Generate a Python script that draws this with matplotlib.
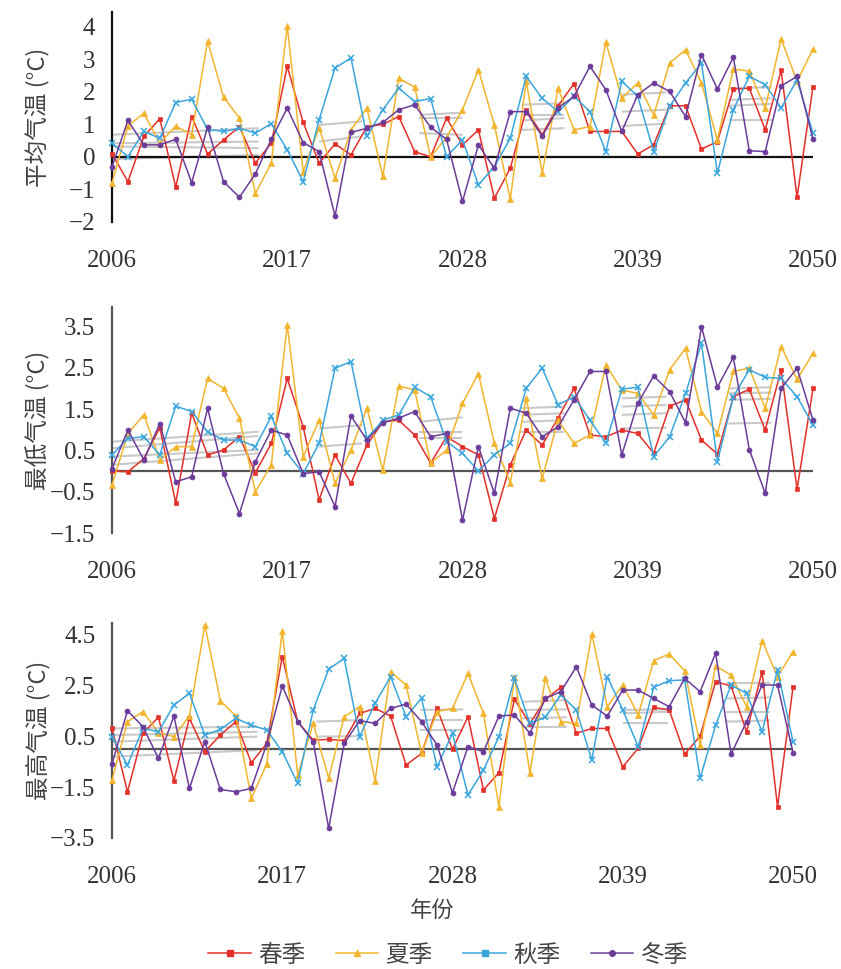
import matplotlib
matplotlib.use("Agg")
import matplotlib.pyplot as plt
from matplotlib.lines import Line2D
import numpy as np

years = np.arange(2006, 2051)
xticks = [2006, 2017, 2028, 2039, 2050]
seasons = ["春季", "夏季", "秋季", "冬季"]

# ---- 平均气温 anomalies ----
mean_spring = [0.1, -0.76, 0.63, 1.17, -0.93, 1.24, 0.09, 0.52, 0.93, -0.19, 0.42, 2.78, 1.06, -0.19, 0.40,
               0.06, 0.93, 1.0, 1.24, 0.16, 0.0, 1.19, 0.37, 0.83, -1.27, -0.35, 1.45, 0.68, 1.57, 2.25,
               0.78, 0.78, 0.78, 0.09, 0.37, 1.57, 1.57, 0.24, 0.47, 2.08, 2.11, 0.83, 2.66, -1.24, 2.16]
mean_summer = [-0.8, 0.95, 1.34, 0.42, 0.95, 0.68, 3.55, 1.84, 1.19, -1.12, -0.19, 4.03, -0.45, 0.9, -0.66,
               0.83, 1.5, -0.6, 2.42, 2.14, 0.0, 0.6, 1.45, 2.68, 0.98, -1.3, 2.32, -0.5, 2.11, 0.83,
               0.93, 3.52, 1.8, 2.27, 1.29, 2.88, 3.29, 2.27, 0.52, 2.7, 2.63, 1.5, 3.62, 2.32, 3.31]
mean_autumn = [0.42, 0.01, 0.78, 0.57, 1.67, 1.77, 0.85, 0.78, 0.88, 0.73, 1.02, 0.22, -0.76, 1.14, 2.73,
               3.04, 0.63, 1.45, 2.11, 1.7, 1.79, 0.01, 0.52, -0.86, -0.3, 0.57, 2.47, 1.8, 1.39, 1.86,
               1.39, 0.16, 2.32, 1.86, 0.16, 1.55, 2.27, 2.88, -0.5, 1.45, 2.47, 2.22, 1.5, 2.37, 0.73]
mean_winter = [-0.3, 1.12, 0.37, 0.37, 0.54, -0.79, 0.91, -0.76, -1.24, -0.52, 0.54, 1.5, 0.44, 0.16, -1.82,
               0.75, 0.88, 1.06, 1.45, 1.6, 0.91, 0.54, -1.37, 0.37, -0.35, 1.39, 1.39, 0.63, 1.5, 1.86,
               2.78, 2.06, 0.78, 1.91, 2.27, 2.01, 1.24, 3.14, 2.08, 3.06, 0.19, 0.16, 2.18, 2.47, 0.54]

# ---- 最低气温 anomalies ----
min_spring = [0.0, -0.02, 0.3, 1.05, -0.77, 1.4, 0.39, 0.51, 0.83, -0.04, 0.67, 2.24, 1.07, -0.7, 0.39,
              -0.3, 0.63, 1.19, 1.23, 0.87, 0.19, 0.83, 0.59, 0.39, -1.15, 0.15, 0.99, 0.63, 1.28, 2.0,
              0.87, 0.83, 0.99, 0.91, 0.43, 1.57, 1.72, 0.75, 0.41, 1.8, 1.98, 0.99, 2.45, -0.44, 2.0]
min_summer = [-0.34, 0.91, 1.36, 0.27, 0.59, 0.59, 2.24, 2.0, 1.28, -0.5, 0.15, 3.54, 0.35, 1.23, -0.3,
              0.51, 1.52, 0.02, 2.06, 1.96, 0.19, 0.51, 1.64, 2.36, 0.67, -0.28, 1.76, -0.18, 1.23, 0.67,
              0.87, 2.57, 1.96, 1.88, 1.36, 2.45, 2.97, 1.44, 0.91, 2.41, 2.49, 1.52, 3.01, 2.22, 2.85]
min_autumn = [0.39, 0.79, 0.83, 0.39, 1.57, 1.44, 0.95, 0.75, 0.75, 0.59, 1.32, 0.43, -0.06, 0.67, 2.49,
              2.65, 0.79, 1.23, 1.36, 2.03, 1.8, 0.71, 0.43, 0.0, 0.39, 0.67, 2.0, 2.49, 1.6, 1.8,
              1.23, 0.67, 1.98, 2.03, 0.35, 0.83, 1.88, 3.09, 0.23, 1.8, 2.45, 2.27, 2.24, 1.8, 1.11]
min_winter = [0.06, 0.99, 0.27, 1.15, -0.26, -0.14, 1.52, -0.06, -1.03, 0.23, 0.99, 0.87, -0.06, -0.02, -0.86,
              1.33, 0.75, 1.17, 1.28, 1.44, 0.83, 0.91, -1.19, 0.59, -0.54, 1.52, 1.4, 0.83, 1.07, 1.72,
              2.41, 2.41, 0.39, 1.64, 2.3, 1.92, 1.17, 3.49, 2.03, 2.75, 0.52, -0.54, 2.0, 2.49, 1.23]

# ---- 最高气温 anomalies ----
max_spring = [0.81, -1.68, 0.62, 1.25, -1.25, 1.21, -0.1, 0.55, 1.08, -0.54, 0.22, 3.64, 1.08, 0.35, 0.38,
              0.33, 1.4, 1.6, 1.3, -0.63, -0.17, 1.6, -0.01, 1.27, -1.61, -0.93, 1.96, 1.0, 1.96, 2.43,
              0.62, 0.81, 0.81, -0.7, 0.03, 1.64, 1.54, -0.2, 0.51, 2.65, 2.48, 0.68, 3.04, -2.27, 2.43]
max_summer = [-1.22, 1.08, 1.47, 0.64, 0.49, 1.3, 4.88, 1.9, 1.3, -1.94, -0.59, 4.66, -1.02, 1.01, -1.15,
              1.27, 1.67, -1.25, 3.04, 2.52, -0.17, 1.47, 1.6, 2.98, 1.4, -2.27, 2.85, -0.93, 2.78, 1.08,
              1.01, 4.53, 1.67, 2.52, 1.34, 3.48, 3.74, 3.08, 0.16, 3.27, 2.91, 1.67, 4.27, 2.85, 3.83]
max_autumn = [0.49, -0.63, 0.81, 0.68, 1.73, 2.19, 0.55, 0.77, 1.21, 0.94, 0.75, -0.1, -1.35, 1.54, 3.14,
              3.57, 0.49, 1.8, 2.85, 1.27, 2.0, -0.7, 0.62, -1.81, -0.83, 0.49, 2.78, 1.01, 1.25, 2.13,
              1.54, -0.43, 2.85, 1.54, 0.09, 2.43, 2.69, 2.72, -1.15, 0.94, 2.52, 2.19, 0.68, 3.11, 0.29]
max_winter = [-0.59, 1.51, 0.88, -0.37, 1.3, -1.55, 0.29, -1.59, -1.68, -1.55, 0.2, 2.48, 1.08, 0.29, -3.12,
              0.22, 1.12, 1.01, 1.6, 1.77, 1.08, 0.16, -1.72, 0.09, -0.1, 1.3, 1.34, 0.62, 1.99, 2.26,
              3.24, 1.73, 1.3, 2.32, 2.32, 1.99, 1.67, 2.78, 2.26, 3.77, -0.2, 1.08, 2.52, 2.52, -0.14]

# Short grey trend segments: (start year, end year, start levels, end levels)
mean_trends = [
    (2006.0, 2015.2, [0.68, 0.42, 0.32, -0.07], [0.88, 0.47, 0.27, 0.06]),
    (2019.0, 2021.7, [0.98, 0.47], [1.09, 0.63]),
    (2025.3, 2028.0, [1.29, 1.19, 0.73], [1.36, 1.19, 0.68]),
    (2031.7, 2034.4, [1.60, 1.29, 1.12, 0.83], [1.65, 1.29, 1.19, 0.88]),
    (2038.0, 2040.8, [1.91, 1.39, 0.95], [1.98, 1.45, 1.02]),
    (2044.7, 2047.4, [2.11, 1.75, 1.57, 1.12], [2.14, 1.80, 1.63, 1.12]),
]
min_trends = [
    (2006.0, 2015.2, [0.71, 0.55, 0.35, 0.15], [0.95, 0.85, 0.51, 0.43]),
    (2019.0, 2021.7, [1.03, 0.59], [1.11, 0.67]),
    (2025.3, 2028.0, [1.19, 0.95, 0.79], [1.30, 0.95, 0.79]),
    (2031.7, 2034.4, [1.52, 1.36, 1.19, 0.95], [1.56, 1.40, 1.23, 0.95]),
    (2038.0, 2040.8, [1.76, 1.56, 1.36, 1.03], [1.80, 1.60, 1.40, 1.05]),
    (2044.7, 2047.4, [2.00, 1.88, 1.72, 1.15], [2.03, 1.90, 1.75, 1.17]),
]
max_trends = [
    (2006.0, 2015.4, [0.81, 0.55, 0.29, -0.30], [0.88, 0.68, 0.49, -0.04]),
    (2019.2, 2022.0, [1.08, 0.49], [1.14, 0.51]),
    (2025.9, 2028.7, [1.54, 1.14, 0.75], [1.56, 1.14, 0.75]),
    (2032.5, 2035.4, [1.86, 1.54, 1.21, 0.88], [1.93, 1.56, 1.25, 0.88]),
    (2039.0, 2041.9, [1.54, 1.40, 1.01], [1.56, 1.47, 1.01]),
    (2045.7, 2048.5, [2.59, 1.99, 1.47, 1.08], [2.61, 2.03, 1.47, 1.12]),
]

colors = ["#e3302a", "#f1b52e", "#3ba6dd", "#6b3c99"]
markers = ["s", "^", "x", "o"]
msizes = [3.4, 4.0, 4.0, 3.6]

num_font = ["Liberation Serif", "Noto Sans CJK SC"]
cjk_font = ["Noto Sans CJK SC", "DejaVu Sans"]
plt.rcParams["font.family"] = num_font
plt.rcParams["axes.unicode_minus"] = True

W, H = 841, 969
fig = plt.figure(figsize=(W / 100, H / 100), dpi=100)


def add_panel(left, top, right, bottom):
    return fig.add_axes([left / W, 1 - bottom / H, (right - left) / W, (bottom - top) / H])


panels = [
    dict(ax=add_panel(112, 12, 813, 222), data=[mean_spring, mean_summer, mean_autumn, mean_winter],
         trends=mean_trends, ylim=(-2, 4.45), yticks=[-2, -1, 0, 1, 2, 3, 4], fmt="{:.0f}",
         label="平均气温 (°C)", axcolor="#111111"),
    dict(ax=add_panel(112, 307, 813, 533), data=[min_spring, min_summer, min_autumn, min_winter],
         trends=min_trends, ylim=(-1.5, 3.97), yticks=[-1.5, -0.5, 0.5, 1.5, 2.5, 3.5], fmt="{:.1f}",
         label="最低气温 (°C)", axcolor="#555555"),
    dict(ax=add_panel(112, 623, 793, 838), data=[max_spring, max_summer, max_autumn, max_winter],
         trends=max_trends, ylim=(-3.5, 4.96), yticks=[-3.5, -1.5, 0.5, 2.5, 4.5], fmt="{:.1f}",
         label="最高气温 (°C)", axcolor="#555555"),
]

for p in panels:
    ax = p["ax"]
    # grey trend segments
    for x0, x1, y0s, y1s in p["trends"]:
        for y0, y1 in zip(y0s, y1s):
            ax.plot([x0, x1], [y0, y1], color="#c9c9c9", lw=1.5, zorder=1, solid_capstyle="butt")
    ax.axhline(0, color=p["axcolor"], lw=1.6, zorder=1.5)
    for vals, c, m, ms in zip(p["data"], colors, markers, msizes):
        ax.plot(years, vals, color=c, lw=1.1, marker=m, ms=ms, mew=1.1 if m == "x" else 0.5,
                mec=c, mfc=c, zorder=3, clip_on=False)
    ax.set_xlim(2006, 2050)
    ax.set_ylim(*p["ylim"])
    ax.set_yticks(p["yticks"])
    ax.set_yticklabels([p["fmt"].format(v).replace("-", "\u2212") for v in p["yticks"]])
    ax.set_xticks(xticks)
    ax.set_xticklabels([str(x) for x in xticks])
    for s in ["top", "right", "bottom"]:
        ax.spines[s].set_visible(False)
    ax.spines["left"].set_color(p["axcolor"])
    ax.spines["left"].set_linewidth(1.6)
    ax.tick_params(axis="both", length=0, labelsize=18, colors="#333333")
    ax.tick_params(axis="y", pad=12)
    ax.tick_params(axis="x", pad=20)
    pos = ax.get_position()
    fig.text(38 / W, (pos.y0 + pos.y1) / 2, p["label"], rotation=90, ha="center", va="center",
             fontsize=17, color="#444444", family=cjk_font)

fig.text(432 / W, 1 - 910 / H, "年份", ha="center", va="center", fontsize=16, color="#444444",
         family=cjk_font)

handles = [Line2D([0], [0], color=c, lw=1.1, marker=m, ms=4, mfc=c, mec=c)
           for c, m in zip(colors, ["s", "^", "s", "o"])]
fig.legend(handles, seasons, loc="center", bbox_to_anchor=(448 / W, 1 - 955 / H), ncol=4,
           frameon=False, prop={"family": cjk_font, "size": 17}, handlelength=1.8,
           columnspacing=1.3, handletextpad=0.3, labelcolor="#444444")

fig.savefig("out.png", dpi=100)
